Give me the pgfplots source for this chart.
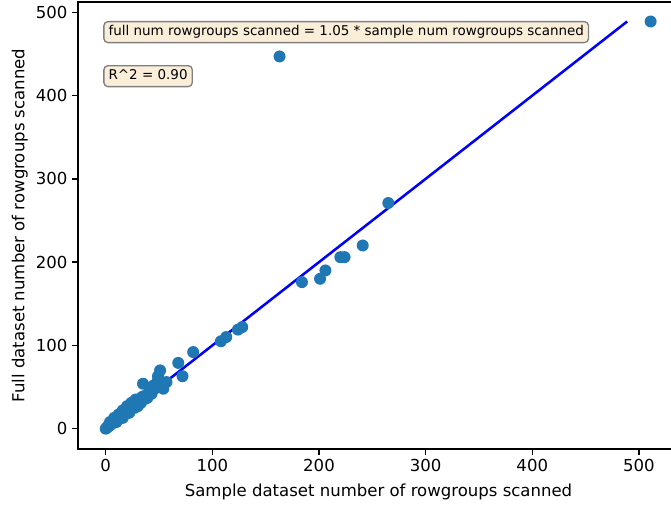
\documentclass[border=0pt]{standalone}
\usepackage{fontspec}
\setmainfont{DejaVu Sans}
\usepackage{pgfplots}
\pgfplotsset{compat=1.18}
\definecolor{c1}{RGB}{31,119,180}
\definecolor{wheatbox}{RGB}{250,238,217}
\definecolor{edgegray}{RGB}{128,128,128}
\begin{document}
\begin{tikzpicture}
\begin{axis}[
  scale only axis,
  width=450.75pt, height=335.25pt,
  xmin=-26, xmax=537.6,
  ymin=-24.4, ymax=512.4,
  xtick={0,100,...,500}, ytick={0,100,...,500},
  tick pos=left, tick align=outside,
  major tick length=4.4pt,
  every tick/.style={black, line width=1pt},
  axis line style={line width=1pt},
  /pgf/number format/assume math mode=true,
  ticklabel style={font=\fontsize{12.4}{14}\selectfont},
  label style={font=\fontsize{12.4}{14}\selectfont},
  xlabel={Sample dataset number of rowgroups scanned},
  ylabel={Full dataset number of rowgroups scanned},
  xlabel style={yshift=-2.2pt},
  ylabel style={xshift=0pt, yshift=-0.8pt},
  clip=false,
]
\addplot[only marks, color=c1, mark=*, mark size=4.5pt, mark options={fill=c1, draw opacity=0}] coordinates {
(0,0)(1,1)(2,3)(3,3)(4,5)(5,5)(6,7)(7,8)(8,8)(9,10)(10,11)(11,12)(12,13)(13,15)(14,15)(15,17)(16,17)(17,19)(18,20)(19,22)(20,22)(21,24)(22,25)(23,26)(24,28)(25,27)(26,30)(27,31)(28,31)(29,33)(30,34)(31,33)(32,35)(33,36)(34,38)(36,39)(38,40)(40,42)(42,44)(44,47)(46,48)(47,53)(49,58)(49,63)(51,70)(35,54)(57,56)(54,48)(30,27)(37,36)
(4,8)(8,13)(12,17)(16,22)(20,27)(24,31)(28,35)(10,8)(16,13)(22,19)(27,25)(33,31)(39,37)(43,42)(45,52)
(68,79)(72,63)(82,92)(108,105)(113,110)(124,119)(128,122)(184,176)(201,180)(206,190)(220,206)(224,206)(241,220)(265,271)(163,447)(511,489)
};
\addplot[blue, line width=1.9pt] coordinates {(0,0) (489,489)};
\node[anchor=north west, draw=edgegray, fill=wheatbox, line width=1pt, rounded corners=3pt, inner xsep=3.5pt, inner ysep=2.8pt, text height=7.7pt, text depth=2.4pt, font=\fontsize{10.1}{12}\selectfont] at (rel axis cs:0.042,0.9575) {full num rowgroups scanned = 1.05 * sample num rowgroups scanned};
\node[anchor=north west, draw=edgegray, fill=wheatbox, line width=1pt, rounded corners=3pt, inner xsep=3.5pt, inner ysep=2.8pt, text height=7.7pt, text depth=2.4pt, font=\fontsize{10.1}{12}\selectfont] at (rel axis cs:0.042,0.859) {R\^{}2 = 0.90};
\end{axis}
\pgfresetboundingbox
\useasboundingbox (-58.5pt,-41.25pt) rectangle (444.75pt,336.75pt);
\end{tikzpicture}
\end{document}
